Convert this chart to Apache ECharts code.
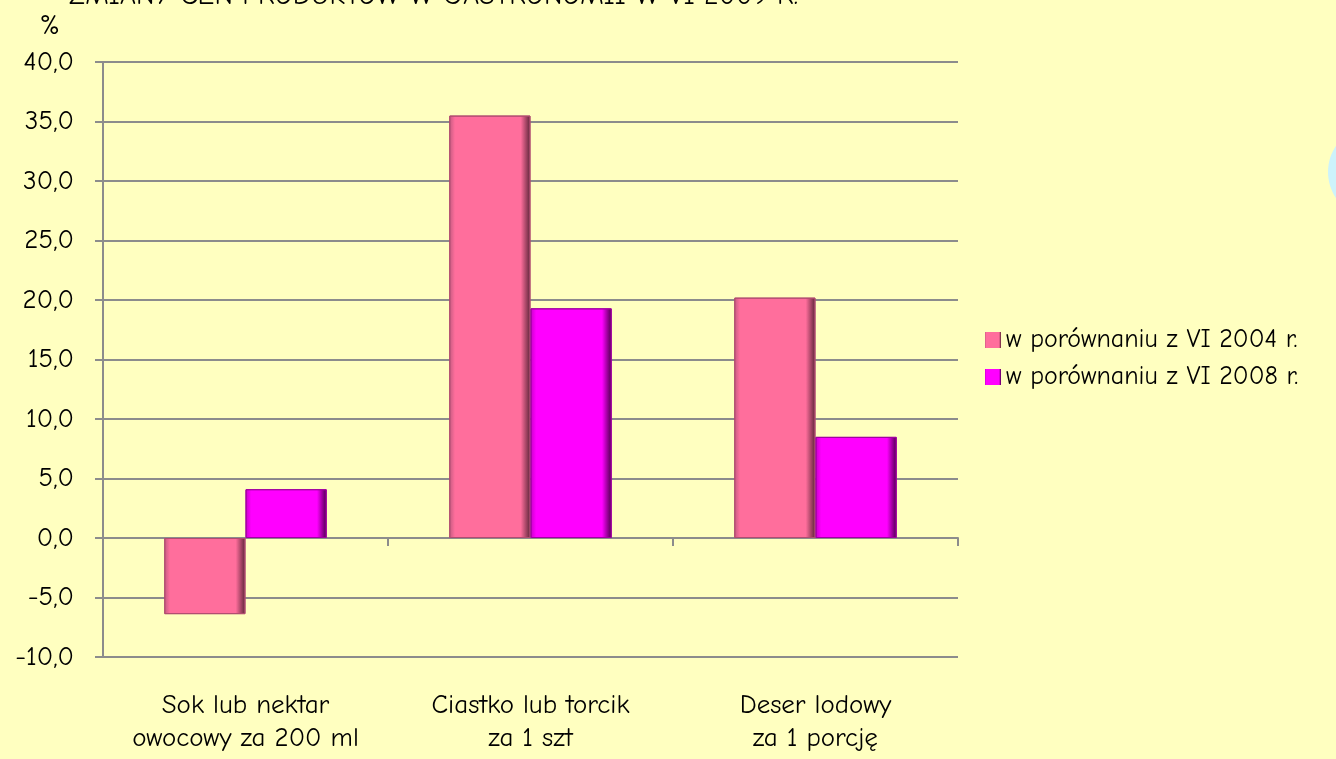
<!DOCTYPE html>
<html lang="pl">
<head>
<meta charset="UTF-8">
<title>Zmiany cen</title>
<script src="https://cdn.jsdelivr.net/npm/echarts@6/dist/echarts.min.js"></script>
<style>
  html, body { margin: 0; padding: 0; background: #ffffc0; }
  #main { width: 1336px; height: 759px; }
</style>
</head>
<body>
<div id="main"></div>
<script>
  var chart = echarts.init(document.getElementById('main'));
  var font = '"Comic Sans MS", "Comic Neue", Lato, sans-serif';

  // dane
  var categories = ['Sok lub nektar\nowocowy za 200 ml', 'Ciastko lub torcik\nza 1 szt', 'Deser lodowy\nza 1 porcję'];
  var seriesNames = ['w porównaniu z VI 2004 r.', 'w porównaniu z VI 2008 r.'];
  var vs2004 = [-6.4, 35.5, 20.2];
  var vs2008 = [4.1, 19.3, 8.5];

  function bevel(light, main, dark) {
    return new echarts.graphic.LinearGradient(0, 0, 1, 0, [
      { offset: 0, color: light },
      { offset: 0.07, color: main },
      { offset: 0.88, color: main },
      { offset: 1, color: dark }
    ]);
  }

  var option = {
    backgroundColor: '#ffffc0',
    textStyle: { fontFamily: font },
    title: {
      text: 'ZMIANY CEN PRODUKTÓW W GASTRONOMII W VI 2009 R.',
      left: 64,
      top: -23,
      textStyle: { fontFamily: font, fontSize: 28, fontWeight: 'normal', color: '#000' }
    },
    legend: {
      data: seriesNames,
      orient: 'vertical',
      left: 980,
      top: 322,
      itemWidth: 16,
      itemHeight: 16,
      itemGap: 11,
      itemStyle: { borderWidth: 0 },
      icon: 'rect',
      textStyle: { fontFamily: font, fontSize: 26, color: '#000' }
    },
    grid: { left: 103, right: 378, top: 62, bottom: 102 },
    xAxis: [{
      type: 'category',
      data: categories,
      axisLine: { onZero: true, lineStyle: { color: '#8c8c8c', width: 2 } },
      axisTick: { show: true, length: 8, lineStyle: { color: '#8c8c8c', width: 2 } },
      axisLabel: { show: false }
    }, {
      type: 'category',
      data: categories,
      position: 'bottom',
      axisLine: { show: false, onZero: false },
      axisTick: { show: false },
      axisLabel: { interval: 0, margin: 32, fontSize: 27, lineHeight: 33, color: '#000', fontFamily: font }
    }],
    yAxis: {
      type: 'value',
      min: -10,
      max: 40,
      interval: 5,
      name: '%',
      nameLocation: 'end',
      nameGap: 22,
      nameTextStyle: { fontSize: 28, color: '#000', fontFamily: font, align: 'right', padding: [0, 43, 0, 0] },
      axisLine: { show: true, lineStyle: { color: '#8c8c8c', width: 2 } },
      axisTick: { show: true, length: 8, lineStyle: { color: '#8c8c8c', width: 2 } },
      axisLabel: {
        margin: 29,
        fontSize: 27,
        color: '#000',
        fontFamily: font,
        formatter: function (v) { return v.toFixed(1).replace('.', ','); }
      },
      splitLine: { lineStyle: { color: '#8c8c8c', width: 2 } }
    },
    series: [{
      name: seriesNames[0],
      type: 'bar',
      data: vs2004,
      barGap: '0%',
      barCategoryGap: '43%',
      itemStyle: { color: bevel('#c45a80', '#ff6e9c', '#5c2438'), borderColor: '#b04c70', borderWidth: 1 }
    }, {
      name: seriesNames[1],
      type: 'bar',
      data: vs2008,
      barGap: '0%',
      barCategoryGap: '43%',
      itemStyle: { color: bevel('#c800c8', '#ff00ff', '#4a004a'), borderColor: '#a000a0', borderWidth: 1 }
    }],
    graphic: [{
      type: 'ellipse',
      shape: { cx: 1382, cy: 172, rx: 54, ry: 50 },
      style: { fill: '#cdf3fb' },
      silent: true,
      z: -1
    }]
  };

  chart.setOption(option);
</script>
</body>
</html>
